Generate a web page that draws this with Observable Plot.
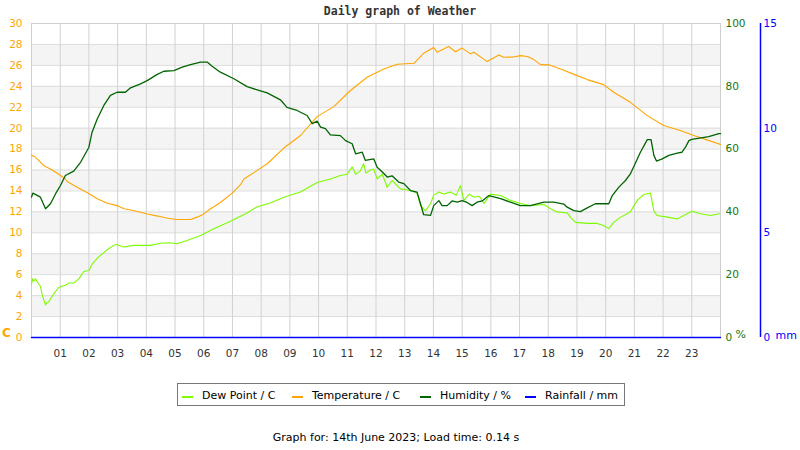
<!DOCTYPE html>
<html>
<head>
<meta charset="utf-8">
<script src="https://cdn.jsdelivr.net/npm/d3@7"></script>
<script src="https://cdn.jsdelivr.net/npm/@observablehq/plot@0.6"></script>
<style>
  html, body { margin: 0; padding: 0; background: #fff; }
  #wrap { position: relative; width: 800px; height: 450px; overflow: hidden; font-family: "DejaVu Sans", sans-serif; }
  #chart { position: absolute; left: 0; top: 0; }
  #title { position: absolute; top: 4px; left: 0; width: 800px; text-align: center; font: bold 11.5px/14px "DejaVu Sans Mono", monospace; color: #333; }
  #legend { position: absolute; left: 177px; top: 383px; width: 448px; height: 23px; box-sizing: border-box; border: 1px solid #777; background: #fff; }
  #legend .sw { position: absolute; top: 12px; width: 11px; height: 2px; }
  #legend .tx { position: absolute; top: 5px; font: 11px/13px "DejaVu Sans", sans-serif; color: #000; white-space: nowrap; }
  #caption { position: absolute; top: 431px; left: 0; width: 792px; text-align: center; font: 11px/13px "DejaVu Sans", sans-serif; color: #000; }
</style>
</head>
<body>
<div id="wrap">
  <div id="chart"></div>
  <div id="title"></div>
  <div id="legend"></div>
  <div id="caption"></div>
</div>
<script>
// ---- text ----
const titleText = "Daily graph of Weather";
const captionText = "Graph for: 14th June 2023; Load time: 0.14 s";
const seriesNames = ["Dew Point / C", "Temperature / C", "Humidity / %", "Rainfall / mm"];
const seriesColors = ["#7cfc00", "#ffa500", "#006400", "#0000ff"];

// ---- ticks ----
const hourTicks = [1,2,3,4,5,6,7,8,9,10,11,12,13,14,15,16,17,18,19,20,21,22,23];
const hourLabels = ["01","02","03","04","05","06","07","08","09","10","11","12","13","14","15","16","17","18","19","20","21","22","23"];
const tempTicks = [0,2,4,6,8,10,12,14,16,18,20,22,24,26,28,30];
const humTicks = [0,20,40,60,80,100];
const rainTicks = [0,5,10,15];
const bandStarts = [2,6,10,14,18,22,26];
const dayDomain = [0, 24];

// ---- data (hour of day, value) ----
const tempHours = [0.00,0.10,0.26,0.43,0.66,0.95,1.18,1.24,1.59,1.96,2.29,2.64,2.98,3.22,3.50,3.80,4.03,4.40,4.73,5.07,5.54,5.77,5.95,6.24,6.58,6.99,7.28,7.40,7.80,8.21,8.79,9.37,9.95,10.53,11.11,11.69,12.27,12.74,13.32,13.66,14.01,14.13,14.53,14.77,15.00,15.29,15.41,15.87,16.28,16.45,16.80,17.03,17.27,17.50,17.73,18.02,18.43,19.01,19.36,19.93,20.28,20.86,21.45,22.02,22.60,23.07,23.53,24.00];
const tempC =     [17.4,17.3,16.9,16.4,16.1,15.6,15.15,14.9,14.35,13.8,13.25,12.83,12.6,12.3,12.15,11.97,11.8,11.6,11.4,11.27,11.27,11.5,11.72,12.3,12.9,13.8,14.6,15.15,15.85,16.6,18.1,19.3,21.1,22.06,23.6,24.86,25.66,26.1,26.2,27.15,27.7,27.25,27.8,27.3,27.65,27.1,27.25,26.36,27.0,26.77,26.8,26.93,26.85,26.55,26.07,26.05,25.66,25.02,24.64,24.16,23.43,22.47,21.2,20.25,19.77,19.3,18.88,18.43];

const dewHours = [0.00,0.04,0.08,0.14,0.20,0.31,0.38,0.49,0.52,0.60,0.78,0.95,1.18,1.30,1.47,1.65,1.82,2.00,2.11,2.34,2.64,2.93,3.21,3.56,3.85,4.14,4.49,4.80,5.07,5.42,5.89,6.35,6.93,7.51,7.86,8.32,8.79,9.37,9.95,10.41,10.76,11.00,11.17,11.29,11.45,11.57,11.65,11.80,11.92,12.04,12.22,12.39,12.56,12.85,13.20,13.43,13.55,13.72,13.90,14.01,14.19,14.35,14.59,14.80,14.94,15.06,15.25,15.41,15.60,15.76,15.99,16.34,16.68,17.03,17.38,17.85,18.08,18.31,18.66,18.80,18.95,19.36,19.70,19.93,20.11,20.28,20.52,20.86,21.10,21.33,21.56,21.68,21.79,22.14,22.49,22.72,23.01,23.30,23.65,23.97];
const dewC =     [5.1,5.6,5.4,5.6,5.3,4.9,4.0,3.1,3.3,3.4,4.2,4.8,5.0,5.2,5.2,5.6,6.3,6.4,7.0,7.7,8.4,8.9,8.65,8.8,8.8,8.8,9.0,9.05,8.95,9.26,9.74,10.4,11.1,11.9,12.5,12.85,13.4,13.9,14.8,15.15,15.47,15.6,16.3,15.6,15.9,16.6,15.7,16.0,16.1,15.15,15.6,14.35,15.0,14.2,14.04,13.8,12.6,12.1,12.8,13.6,13.9,13.7,13.9,13.6,14.5,13.1,13.7,13.4,13.5,12.8,13.7,13.56,13.1,12.8,12.6,12.7,12.3,12.0,11.9,11.4,11.0,10.9,10.9,10.7,10.4,11.0,11.5,12.0,13.1,13.66,13.8,12.1,11.65,11.5,11.33,11.65,12.07,11.82,11.65,11.82];

const humHours = [0.00,0.05,0.15,0.31,0.49,0.66,0.84,1.01,1.18,1.47,1.71,2.00,2.11,2.29,2.52,2.75,2.98,3.27,3.45,3.80,4.03,4.38,4.61,4.96,5.25,5.54,5.89,6.12,6.29,6.58,7.05,7.51,7.92,8.21,8.67,8.90,9.25,9.60,9.78,9.95,10.07,10.24,10.41,10.76,10.94,11.17,11.29,11.52,11.63,11.92,12.04,12.22,12.39,12.56,12.79,12.97,13.20,13.43,13.55,13.66,13.90,14.01,14.19,14.30,14.48,14.65,14.83,15.00,15.17,15.35,15.52,15.70,15.93,16.34,16.68,17.03,17.38,17.85,18.19,18.54,18.66,18.89,19.12,19.36,19.64,20.11,20.23,20.46,20.69,20.86,21.21,21.45,21.58,21.68,21.77,21.97,22.20,22.49,22.66,22.78,22.90,23.00,23.59,23.94,24.00];
const humPct =   [44.7,46.0,45.5,44.7,41.0,42.6,45.8,48.4,51.6,53.0,55.8,60.6,65.4,69.6,73.9,77.1,78.1,78.1,79.5,80.8,81.8,83.8,84.8,85.0,86.1,86.9,87.7,87.7,86.4,84.5,82.4,79.9,78.7,77.9,75.7,73.3,72.3,70.7,68.1,68.9,67.0,66.5,64.5,64.3,62.7,61.7,58.5,59.0,56.4,56.9,54.2,52.7,51.1,51.5,49.5,49.0,46.8,46.3,42.6,39.1,38.9,42.0,43.6,42.0,42.0,43.5,43.1,43.6,43.0,42.0,43.1,43.5,45.2,44.2,43.1,42.0,42.0,43.1,43.1,42.5,41.5,40.4,40.1,41.3,42.6,42.6,45.2,47.9,50.0,52.1,59.0,63.0,63.0,58.0,56.2,56.9,58.0,58.7,59.0,60.6,62.7,63.1,64.0,64.9,64.9];

const rainHours = [0, 6, 12, 18, 24];
const rainMm = [0, 0, 0, 0, 0];

// ---- secondary axis mapping onto the temperature (°C) scale ----
const HUM_TO_C = 30 / 100;
const RAIN_TO_C = 30 / 15;

const dew = dewHours.map((h, i) => ({h, v: dewC[i]}));
const temp = tempHours.map((h, i) => ({h, v: tempC[i]}));
const hum = humHours.map((h, i) => ({h, v: humPct[i] * HUM_TO_C}));
const rain = rainHours.map((h, i) => ({h, v: rainMm[i] * RAIN_TO_C}));

const green = "#127512";
const plot = Plot.plot({
  width: 800,
  height: 370,
  marginTop: 23,
  marginBottom: 33,
  marginLeft: 31,
  marginRight: 80,
  x: {domain: dayDomain, axis: null},
  y: {domain: [0, 30], axis: null},
  style: {fontFamily: "DejaVu Sans, sans-serif", fontSize: "10.5px", background: "transparent", overflow: "visible"},
  marks: [
    Plot.rect(bandStarts, {x1: () => dayDomain[0], x2: () => dayDomain[1], y1: d => d, y2: d => d + 2, fill: "#f4f4f4"}),
    Plot.ruleY(tempTicks, {stroke: "#dcdcdc"}),
    Plot.ruleX(hourTicks, {stroke: "#d2d2d2"}),
    Plot.frame({stroke: "#cfcfcf"}),
    Plot.line(dew, {x: "h", y: "v", stroke: seriesColors[0], strokeWidth: 1.1}),
    Plot.line(temp, {x: "h", y: "v", stroke: seriesColors[1], strokeWidth: 1.1}),
    Plot.line(hum, {x: "h", y: "v", stroke: seriesColors[2], strokeWidth: 1.3}),
    Plot.line(rain, {x: "h", y: "v", stroke: seriesColors[3], strokeWidth: 1.5}),
    Plot.ruleX([dayDomain[1]], {dx: 40, stroke: "#0000ff", strokeWidth: 1.5}),
    Plot.axisX(hourTicks, {anchor: "bottom", tickSize: 0, tickPadding: 12, tickFormat: d => hourLabels[hourTicks.indexOf(d)], fill: "#333", label: null}),
    Plot.axisY(tempTicks, {anchor: "left", tickSize: 0, tickPadding: 9, color: "#ffa500", label: null}),
    Plot.axisY(humTicks.map(d => d * HUM_TO_C), {anchor: "right", tickSize: 0, tickPadding: 5, color: green, tickFormat: d => String(Math.round(d / HUM_TO_C)), label: null}),
    Plot.axisY(rainTicks.map(d => d * RAIN_TO_C), {anchor: "right", dx: 40, tickSize: 0, tickPadding: 3, color: "#0000ff", tickFormat: d => String(Math.round(d / RAIN_TO_C)), label: null}),
    Plot.text(["C"], {frameAnchor: "bottom-left", text: d => d, textAnchor: "middle", lineAnchor: "middle", dx: -25, dy: -4, fill: "#ffa500", fontWeight: "bold", fontSize: 12}),
    Plot.text(["%"], {frameAnchor: "bottom-right", text: d => d, textAnchor: "start", lineAnchor: "middle", dx: 15, dy: -3.5, fill: green, fontSize: 11}),
    Plot.text(["mm"], {frameAnchor: "bottom-right", text: d => d, textAnchor: "start", lineAnchor: "middle", dx: 55, dy: -2, fill: "#0000ff", fontSize: 11})
  ]
});
document.getElementById("chart").appendChild(plot);

document.getElementById("title").textContent = titleText;
document.getElementById("caption").textContent = captionText;

const legend = document.getElementById("legend");
const swatchLeft = [4, 114, 242, 347];
const textLeft = [24, 134, 262, 367];
seriesNames.forEach((name, i) => {
  const sw = document.createElement("div");
  sw.className = "sw";
  sw.style.left = swatchLeft[i] + "px";
  sw.style.background = seriesColors[i];
  legend.appendChild(sw);
  const tx = document.createElement("div");
  tx.className = "tx";
  tx.style.left = textLeft[i] + "px";
  tx.textContent = name;
  legend.appendChild(tx);
});
</script>
</body>
</html>
